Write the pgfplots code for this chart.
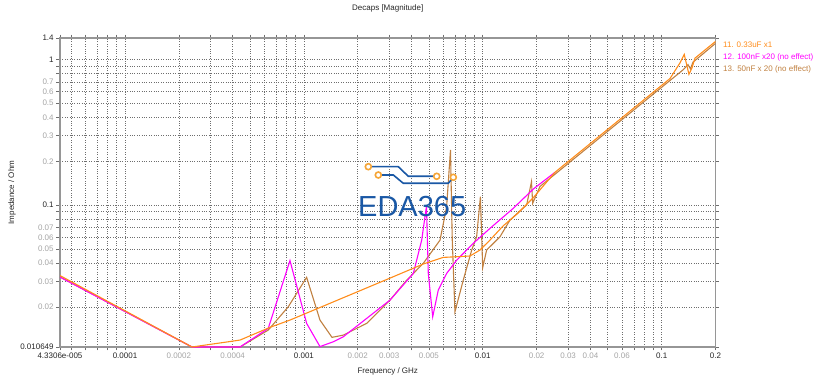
\documentclass[border=0pt]{standalone}
\usepackage{pgfplots}
\pgfplotsset{compat=1.18}
\usepackage{fontspec}
\setmainfont{Liberation Sans}
\definecolor{cOr}{RGB}{255,140,26}
\definecolor{cMa}{RGB}{255,0,255}
\definecolor{cBr}{RGB}{192,128,64}
\definecolor{lbl}{RGB}{165,165,165}
\definecolor{gridc}{RGB}{110,110,110}
\definecolor{axc}{RGB}{150,150,150}
\definecolor{logoblue}{RGB}{26,88,165}
\definecolor{logoor}{RGB}{245,165,55}
\begin{document}
\fontsize{8bp}{9.6bp}\selectfont
\begin{tikzpicture}
\begin{axis}[
  scale only axis, width=655.5bp, height=309bp, at={(0,0)}, anchor=south west,
  xmode=log, ymode=log,
  xmin=4.3306e-5, xmax=0.2, ymin=0.010649, ymax=1.4,
  xtick={4.3306e-5,1e-4,2e-4,4e-4,1e-3,2e-3,3e-3,5e-3,1e-2,2e-2,3e-2,4e-2,6e-2,0.1,0.2},
  xticklabels={4.3306e-005,0.0001,\textcolor{lbl}{0.0002},\textcolor{lbl}{0.0004},0.001,\textcolor{lbl}{0.002},\textcolor{lbl}{0.003},\textcolor{lbl}{0.005},0.01,\textcolor{lbl}{0.02},\textcolor{lbl}{0.03},\textcolor{lbl}{0.04},\textcolor{lbl}{0.06},0.1,0.2},
  minor xtick={5e-5,6e-5,7e-5,8e-5,9e-5,3e-4,5e-4,6e-4,7e-4,8e-4,9e-4,4e-3,6e-3,7e-3,8e-3,9e-3,5e-2,7e-2,8e-2,9e-2},
  ytick={0.010649,0.02,0.03,0.04,0.05,0.06,0.07,0.1,0.2,0.3,0.4,0.5,0.6,0.7,1,1.4},
  yticklabels={0.010649,\textcolor{lbl}{0.02},\textcolor{lbl}{0.03},\textcolor{lbl}{0.04},\textcolor{lbl}{0.05},\textcolor{lbl}{0.06},\textcolor{lbl}{0.07},0.1,\textcolor{lbl}{0.2},\textcolor{lbl}{0.3},\textcolor{lbl}{0.4},\textcolor{lbl}{0.5},\textcolor{lbl}{0.6},\textcolor{lbl}{0.7},1,1.4},
  minor ytick={0.08,0.09,0.8,0.9},
  grid=both,
  major grid style={gridc, line width=0.7bp, dash pattern=on 0.8bp off 1.6bp},
  minor grid style={gridc, line width=0.7bp, dash pattern=on 0.8bp off 1.6bp},
  axis line style={axc, line width=1.3bp},
  tick align=outside, major tick length=3.5bp, minor tick length=3.5bp,
  every tick/.style={gridc, line width=0.7bp},
  xticklabel style={font=\fontsize{8bp}{9.6bp}\selectfont, text=black!85},
  yticklabel style={font=\fontsize{8bp}{9.6bp}\selectfont, text=black!85},
  title={Decaps [Magnitude]},
  title style={at={(0.5,1.0777)}, anchor=center, font=\fontsize{8bp}{9.6bp}\selectfont, text=black!85},
  xlabel={Frequency / GHz},
  xlabel style={at={(0.5,-0.0799)}, anchor=center, font=\fontsize{8bp}{9.6bp}\selectfont, text=black!85},
  ylabel={Impedance / Ohm},
  ylabel style={at={(-0.0732,0.5)}, anchor=center, font=\fontsize{8bp}{9.6bp}\selectfont, text=black!85},
]
% 13. 50nF x 20 (brown)
\addplot[cBr, line width=1.1bp] coordinates {
(4.3306e-5,0.0322) (2.368e-4,0.01065) (4.395e-4,0.01065) (6.32e-4,0.01391)
(8.18e-4,0.02010) (1.036e-3,0.0320) (1.23e-3,0.01629) (1.436e-3,0.01240)
(1.661e-3,0.01285) (2.244e-3,0.01546) (3.03e-3,0.02234) (3.756e-3,0.0306)
(4.65e-3,0.0399) (5.77e-3,0.0576) (6.28e-3,0.0975) (6.60e-3,0.2388)
(6.753e-3,0.0576) (6.99e-3,0.01857) (7.78e-3,0.0306) (8.67e-3,0.0492)
(9.24e-3,0.0607) (9.70e-3,0.1142) (9.99e-3,0.0373) (1.051e-2,0.0492)
(1.248e-2,0.0607) (1.419e-2,0.0790) (1.759e-2,0.1002) (1.872e-2,0.1447)
(1.901e-2,0.1029) (2.088e-2,0.1343) (0.1,0.643) (0.1321,0.849)
(0.1403,0.920) (0.1449,0.860) (0.1496,0.955) (0.2,1.286)
};
% 12. 100nF x20 (magenta)
\addplot[cMa, line width=1.1bp] coordinates {
(4.3306e-5,0.03213) (2.368e-4,0.01065) (4.395e-4,0.01065) (6.32e-4,0.01429)
(8.36e-4,0.0417) (1.036e-3,0.01546) (1.23e-3,0.01072) (1.459e-3,0.01156)
(1.661e-3,0.01252) (3.03e-3,0.02234) (4.09e-3,0.0340) (4.556e-3,0.0576)
(4.845e-3,0.0986) (4.96e-3,0.0340) (5.25e-3,0.01716) (5.64e-3,0.02616)
(6.28e-3,0.0340) (7.15e-3,0.0420) (8.85e-3,0.0547) (1.097e-2,0.0693)
(1.481e-2,0.0951) (1.916e-2,0.1290) (2.533e-2,0.1680)
};
% 11. 0.33uF x1 (orange)
\addplot[cOr, line width=1.1bp] coordinates {
(4.3306e-5,0.0329) (2.368e-4,0.01065) (4.395e-4,0.01188) (6.46e-4,0.01452)
(8.36e-4,0.01629) (3.03e-3,0.0316) (4.63e-3,0.0394) (5.99e-3,0.0438)
(8.48e-3,0.0448) (9.64e-3,0.0492) (1.097e-2,0.0576) (1.297e-2,0.0719)
(1.553e-2,0.0869) (1.909e-2,0.1119) (2.533e-2,0.1680)
(0.1,0.663) (0.1113,0.738) (0.1265,0.943) (0.1337,1.082) (0.1421,0.789)
(0.1477,0.872) (0.1535,1.018) (0.2,1.326)
};
\end{axis}
% watermark logo
\begin{scope}
\draw[logoblue, line width=1.6bp] (308.3bp,180.3bp) -- (338.3bp,180.3bp) -- (348.3bp,170.7bp) -- (376.7bp,170.7bp);
\draw[logoblue, line width=1.6bp] (318.3bp,172bp) -- (333.3bp,172bp) -- (343.3bp,163.7bp) -- (388.3bp,163.7bp) -- (393.3bp,169.7bp);
\foreach \p in {(308.3bp,180.3bp),(318.3bp,172bp),(376.7bp,170.7bp),(393.3bp,169.7bp)}
  \draw[logoor, fill=white, line width=1.6bp] \p circle (3bp);
\node[anchor=base west, inner sep=0pt, text=logoblue, font=\fontsize{29bp}{30bp}\selectfont] at (298bp,130.3bp) {EDA365};
\end{scope}
% legend
\node[anchor=west, inner sep=0pt, text=cOr] at (663bp,302bp) {11. 0.33uF x1};
\node[anchor=west, inner sep=0pt, text=cMa] at (663bp,289.7bp) {12. 100nF x20 (no effect)};
\node[anchor=west, inner sep=0pt, text=cBr] at (663bp,277.7bp) {13. 50nF x 20 (no effect)};
\pgfresetboundingbox
\path[use as bounding box] (-60bp,-34bp) rectangle (772bp,347bp);
\end{tikzpicture}
\end{document}
